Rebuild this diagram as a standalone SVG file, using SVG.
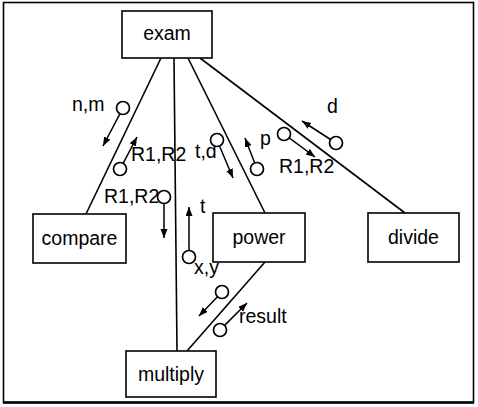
<svg xmlns="http://www.w3.org/2000/svg" width="478" height="407" viewBox="0 0 478 407">
<style>
.box{fill:#fff;stroke:#000;stroke-width:1.6}
.lbl{font-family:"Liberation Sans",Arial,sans-serif;font-size:19.5px;fill:#000}
.ctr{text-anchor:middle}
.ln{stroke:#000;stroke-width:1.6;fill:none}
.cp{fill:#fff;stroke:#000;stroke-width:1.7}
.ar{stroke:#000;stroke-width:1.5;fill:none;marker-end:url(#ah)}
</style>
<defs>
<marker id="ah" markerUnits="userSpaceOnUse" markerWidth="10" markerHeight="8" refX="9" refY="3.5" orient="auto">
<path d="M0,0 L9,3.5 L0,7 z" fill="#000"/>
</marker>
</defs>
<rect x="0" y="0" width="478" height="407" fill="#fff"/>
<rect x="3.5" y="2.5" width="470" height="400" fill="none" stroke="#000" stroke-width="1.6"/>
<line x1="3" y1="402.5" x2="474" y2="402.5" stroke="#000" stroke-width="2.5"/>
<g id="connectors">
<line class="ln" x1="161" y1="58" x2="86" y2="214"/>
<line class="ln" x1="174" y1="58" x2="177" y2="351"/>
<line class="ln" x1="188" y1="58" x2="265" y2="213"/>
<line class="ln" x1="200" y1="58" x2="405" y2="213"/>
<line class="ln" x1="265" y1="262" x2="187" y2="351"/>
</g>
<g id="couples">
<line class="ar" x1="120" y1="113.7" x2="103" y2="146"/>
<circle class="cp" cx="123" cy="108" r="6.5"/>
<text class="lbl" x="72" y="111">n,m</text>
<line class="ar" x1="123.1" y1="163.3" x2="137" y2="137"/>
<circle class="cp" cx="120" cy="169" r="6.5"/>
<text class="lbl" x="131" y="161">R1,R2</text>
<line class="ar" x1="164" y1="203.5" x2="164" y2="238"/>
<text class="lbl" x="104" y="203">R1,R2</text>
<circle class="cp" cx="164" cy="197" r="6.5"/>
<line class="ar" x1="189" y1="250.5" x2="189" y2="207"/>
<circle class="cp" cx="189" cy="257" r="6.5"/>
<text class="lbl" x="200" y="213">t</text>
<text class="lbl" x="194" y="274">x,y</text>
<text class="lbl" x="195" y="158">t,d</text>
<line class="ar" x1="219.5" y1="146" x2="233" y2="178"/>
<circle class="cp" cx="217" cy="140" r="6.5"/>
<line class="ar" x1="254.7" y1="162.9" x2="245" y2="138"/>
<circle class="cp" cx="257" cy="169" r="6.5"/>
<text class="lbl" x="260" y="145">p</text>
<line class="ar" x1="289.2" y1="137.9" x2="315" y2="157"/>
<circle class="cp" cx="284" cy="134" r="6.5"/>
<text class="lbl" x="279" y="173">R1,R2</text>
<line class="ar" x1="330.5" y1="139.5" x2="302" y2="121"/>
<circle class="cp" cx="336" cy="143" r="6.5"/>
<text class="lbl" x="327" y="113">d</text>
<line class="ar" x1="217.5" y1="296.7" x2="199" y2="316"/>
<circle class="cp" cx="222" cy="292" r="6.5"/>
<line class="ar" x1="224.6" y1="325.4" x2="247" y2="303"/>
<circle class="cp" cx="220" cy="330" r="6.5"/>
<text class="lbl" x="239" y="323">result</text>
</g>
<g id="exam">
<rect class="box" x="122" y="11" width="90" height="47"/>
<text class="lbl ctr" x="167" y="40">exam</text>
</g>
<g id="compare">
<rect class="box" x="33" y="214" width="93" height="49"/>
<text class="lbl ctr" x="79.5" y="245">compare</text>
</g>
<g id="power">
<rect class="box" x="213" y="213" width="92" height="49"/>
<text class="lbl ctr" x="259" y="244">power</text>
</g>
<g id="divide">
<rect class="box" x="368" y="213" width="91" height="49"/>
<text class="lbl ctr" x="413.5" y="244">divide</text>
</g>
<g id="multiply">
<rect class="box" x="126" y="351" width="90" height="46"/>
<text class="lbl ctr" x="171" y="381">multiply</text>
</g>
</svg>
